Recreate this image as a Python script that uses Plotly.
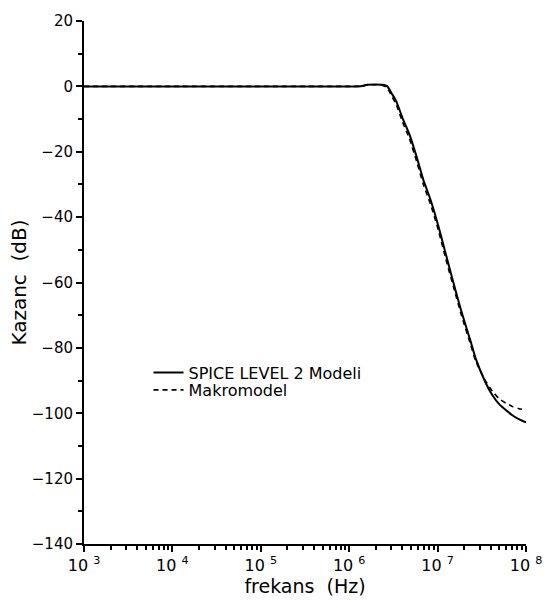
import plotly.graph_objects as go

# frequencies (Hz)
freq = [1e3, 1e4, 1e5, 1e6, 1.35e6, 1.6e6, 2.0e6, 2.4e6, 2.7e6, 3.0e6, 3.4e6,
        4.0e6, 4.8e6, 5.8e6, 6.9e6, 8.3e6, 1.02e7, 1.23e7, 1.5e7, 1.86e7,
        2.34e7, 2.7e7, 3.47e7, 4.17e7, 5.0e7, 5.9e7, 7.0e7, 8.3e7, 1e8]

# SPICE LEVEL 2 model gain (dB)
spice_db = [0, 0, 0, 0, 0.05, 0.5, 0.6, 0.5, 0.0, -2.0, -4.5,
            -9.6, -14.7, -21.6, -28.6, -34.6, -42.7, -51.0, -59.8, -68.9,
            -77.6, -83.3, -90.5, -94.5, -97.3, -99.0, -100.6, -101.8, -102.8]

# Macromodel gain (dB)
macro_db = [0, 0, 0, 0, 0.05, 0.4, 0.5, 0.3, -0.5, -2.8, -5.5,
            -10.8, -16.0, -23.0, -30.0, -36.0, -44.0, -52.5, -61.0, -70.0,
            -78.6, -84.0, -90.0, -93.3, -95.6, -96.9, -97.9, -98.6, -99.0]

y_ticks = [20, 0, -20, -40, -60, -80, -100, -120, -140]
y_ticktext = ["20", "0", "\u221220", "\u221240", "\u221260", "\u221280",
              "\u2212100", "\u2212120", "\u2212140"]
x_ticks = [1e3, 1e4, 1e5, 1e6, 1e7, 1e8]
x_ticktext = ["10 <sup>3</sup>", "10 <sup>4</sup>", "10 <sup>5</sup>",
              "10 <sup>6</sup>", "10 <sup>7</sup>", "10 <sup>8</sup>"]
x_minor = [m * 10 ** e for e in range(3, 8) for m in range(2, 10)]

FONT = "DejaVu Sans"

fig = go.Figure()
fig.add_trace(go.Scatter(x=freq, y=spice_db, mode="lines",
                         name="SPICE LEVEL 2 Modeli", legend="legend",
                         line=dict(color="black", width=2, shape="spline",
                                   smoothing=0.6)))
fig.add_trace(go.Scatter(x=freq, y=macro_db, mode="lines",
                         name="Makromodel", legend="legend2",
                         line=dict(color="black", width=1.6, dash="5px,4px",
                                   shape="spline", smoothing=0.6)))

legend_style = dict(xanchor="left", yanchor="top", bgcolor="rgba(0,0,0,0)",
                    font=dict(size=16, family=FONT), itemwidth=30)

fig.update_layout(
    width=554, height=603,
    margin=dict(l=84, r=20, t=12, b=59),
    paper_bgcolor="white", plot_bgcolor="white",
    font=dict(family=FONT, color="black", size=15),
    showlegend=True,
    legend=dict(x=0.146, y=0.360, **legend_style),
    legend2=dict(x=0.146, y=0.327, **legend_style),
    xaxis=dict(type="log", range=[3, 8], showgrid=False, zeroline=False,
               showline=True, linecolor="black", linewidth=2,
               ticks="outside", ticklen=6, tickwidth=1.5, tickcolor="black",
               tickmode="array", tickvals=x_ticks, ticktext=x_ticktext,
               tickfont=dict(size=16, family=FONT),
               minor=dict(tickvals=x_minor, ticks="outside", ticklen=4,
                          tickwidth=1.5, tickcolor="black", showgrid=False),
               title=dict(text="frekans  (Hz)", font=dict(size=19, family=FONT),
                          standoff=0)),
    yaxis=dict(range=[-140, 20], showgrid=False, zeroline=False,
               showline=True, linecolor="black", linewidth=2,
               ticks="outside", ticklen=6, tickwidth=1.5, tickcolor="black",
               tickmode="array", tickvals=y_ticks, ticktext=y_ticktext,
               tickfont=dict(size=15, family=FONT),
               minor=dict(dtick=10, tick0=0, ticks="outside", ticklen=4,
                          tickwidth=1.5, tickcolor="black", showgrid=False),
               title=dict(text="Kazanc  (dB)", font=dict(size=20, family=FONT),
                          standoff=0)),
)

fig.write_html("out.html")
